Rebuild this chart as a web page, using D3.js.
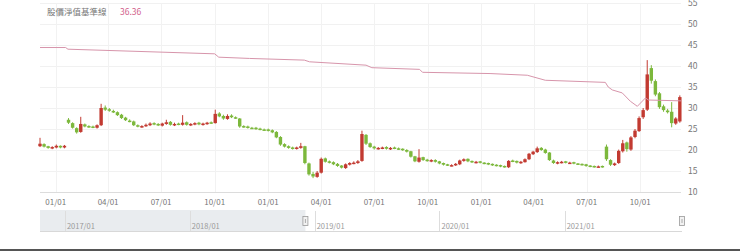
<!DOCTYPE html>
<html lang="zh-Hant">
<head>
    <meta charset="UTF-8">
    <title>股價淨值基準線</title>
    <script src="https://cdn.jsdelivr.net/npm/d3@7/dist/d3.min.js"></script>
    <style>
        body { margin: 0; background: #fff; }
        svg { display: block; font-family: "Noto Sans CJK TC", "Noto Sans", sans-serif; }
    </style>
</head>
<body>
<script>
    var width = 740
    var height = 251

    // 週K資料(每週一根)
    var firstWeek = '2018-12-05'
    var open = [
        20.9, 21.4, 20.9, 20.4, 20.6, 21.0, 20.6, 27.2, 26.4, 25.2,
        24.3, 26.1, 25.7, 25.6, 25.3, 25.9, 30.1, 29.7, 29.3, 29.0,
        28.4, 27.7, 27.0, 26.8, 25.9, 25.5, 25.7, 25.9, 26.4, 26.2,
        25.8, 26.2, 26.7, 25.9, 26.3, 26.0, 26.6, 25.9, 26.1, 26.5,
        26.0, 26.2, 26.6, 26.4, 28.7, 28.1, 27.4, 28.2, 27.8, 27.5,
        25.7, 25.6, 25.3, 25.3, 25.1, 24.9, 24.9, 24.7, 24.3, 23.1,
        21.4, 20.9, 20.6, 20.3, 20.5, 20.9, 16.8, 14.3, 13.6, 14.6,
        18.0, 17.3, 17.1, 16.7, 16.3, 15.7, 16.5, 16.8, 16.9, 17.4,
        23.6, 21.6, 20.8, 20.3, 20.4, 20.7, 20.2, 20.6, 20.4, 20.3,
        20.0, 19.7, 18.5, 17.2, 18.3, 17.7, 17.3, 17.6, 17.3, 16.9,
        16.6, 16.3, 16.4, 16.6, 17.4, 17.9, 17.4, 17.0, 17.3, 17.0,
        16.9, 16.7, 16.5, 16.4, 16.2, 15.9, 17.5, 17.4, 16.9, 17.1,
        17.8, 19.0, 19.5, 20.5, 20.1, 19.4, 17.5, 16.8, 17.0, 17.3,
        16.9, 17.1, 16.8, 16.7, 16.6, 16.3, 16.2, 15.9, 16.2, 20.8,
        17.6, 16.4, 16.9, 19.7, 21.8, 20.1, 23.1, 24.5, 27.8, 29.6,
        39.5, 36.4, 33.5, 30.4, 29.4, 29.1, 26.3, 26.8
    ]
    var high = [
        22.9, 21.6, 21.0, 20.9, 21.3, 21.1, 21.2, 27.6, 26.6, 25.4,
        27.9, 26.3, 25.9, 25.8, 26.1, 31.0, 30.6, 30.0, 29.6, 29.2,
        28.6, 27.9, 27.3, 27.0, 26.1, 25.9, 26.3, 26.6, 26.6, 26.4,
        26.5, 27.2, 26.9, 26.5, 26.5, 28.3, 26.8, 26.4, 26.6, 26.7,
        26.5, 26.7, 26.8, 29.6, 29.0, 28.4, 28.5, 28.5, 28.0, 27.6,
        25.9, 25.8, 25.5, 25.5, 25.3, 25.1, 25.1, 24.9, 24.5, 23.3,
        21.6, 21.1, 20.8, 20.8, 21.7, 21.0, 17.0, 14.8, 15.0, 18.2,
        18.2, 17.5, 17.3, 16.9, 16.4, 16.8, 17.1, 17.3, 17.6, 24.6,
        23.8, 21.8, 21.0, 20.7, 20.8, 20.9, 20.7, 20.8, 20.6, 20.4,
        20.2, 19.8, 18.6, 20.2, 18.4, 17.9, 17.8, 17.8, 17.4, 17.0,
        16.7, 16.6, 16.9, 17.7, 18.0, 18.0, 17.5, 17.4, 17.4, 17.1,
        17.0, 16.8, 16.6, 16.5, 16.3, 17.6, 17.7, 17.5, 17.4, 18.0,
        19.3, 19.8, 20.8, 20.7, 20.3, 19.5, 17.7, 17.3, 17.4, 17.4,
        17.2, 17.2, 16.9, 16.8, 16.7, 16.4, 16.3, 16.3, 16.3, 21.3,
        17.8, 17.0, 20.1, 22.4, 22.0, 23.3, 25.0, 28.0, 30.0, 41.4,
        40.2, 36.8, 33.8, 30.8, 29.8, 31.4, 27.8, 33.0
    ]
    var low = [
        20.7, 20.6, 20.3, 20.2, 20.4, 20.4, 20.4, 26.2, 25.1, 23.9,
        24.1, 25.4, 25.3, 25.2, 25.1, 25.7, 29.3, 29.1, 28.8, 28.1,
        27.4, 26.9, 26.6, 25.7, 25.4, 25.3, 25.5, 25.7, 25.9, 25.7,
        25.6, 26.0, 25.8, 25.7, 25.9, 25.8, 25.8, 25.7, 25.9, 25.9,
        25.8, 26.0, 26.2, 26.3, 27.8, 27.2, 27.2, 27.6, 27.4, 25.3,
        25.3, 25.1, 25.0, 24.8, 24.7, 24.6, 24.4, 24.0, 22.8, 21.0,
        20.6, 20.3, 20.1, 20.1, 20.3, 16.6, 13.9, 13.3, 13.4, 14.4,
        17.0, 16.8, 16.4, 16.0, 15.6, 15.5, 16.3, 16.6, 16.7, 17.2,
        21.2, 20.5, 20.1, 20.1, 20.2, 20.1, 20.0, 20.2, 20.0, 19.8,
        19.4, 18.2, 17.1, 17.0, 17.4, 17.2, 17.1, 17.0, 16.6, 16.3,
        16.2, 16.1, 16.2, 16.4, 17.2, 17.1, 16.9, 16.8, 16.8, 16.6,
        16.4, 16.2, 16.1, 15.9, 15.8, 15.7, 17.1, 16.8, 16.7, 17.0,
        17.6, 18.8, 19.3, 19.8, 19.1, 17.4, 16.7, 16.6, 16.8, 16.8,
        16.8, 16.6, 16.5, 16.3, 16.0, 15.9, 15.8, 15.8, 15.8, 17.4,
        16.2, 16.2, 16.7, 19.4, 19.6, 19.8, 22.8, 24.3, 27.4, 29.3,
        35.8, 32.8, 29.8, 29.1, 28.7, 25.4, 26.0, 26.5
    ]
    var close = [
        21.5, 20.8, 20.5, 20.7, 21.0, 20.6, 21.0, 26.5, 25.3, 24.2,
        26.2, 25.6, 25.5, 25.4, 25.9, 30.0, 29.6, 29.4, 29.0, 28.3,
        27.6, 27.1, 26.8, 25.9, 25.6, 25.7, 26.0, 26.3, 26.1, 25.9,
        26.3, 26.6, 26.0, 26.2, 26.1, 26.5, 26.0, 26.2, 26.4, 26.1,
        26.3, 26.5, 26.4, 28.6, 28.0, 27.5, 28.1, 27.8, 27.6, 25.6,
        25.5, 25.3, 25.2, 25.0, 24.9, 24.8, 24.6, 24.2, 23.0, 21.3,
        20.8, 20.5, 20.4, 20.6, 20.9, 16.9, 14.2, 13.7, 14.6, 17.9,
        17.2, 17.0, 16.6, 16.2, 15.8, 16.6, 16.9, 17.0, 17.3, 23.8,
        21.5, 20.7, 20.4, 20.5, 20.6, 20.3, 20.5, 20.4, 20.2, 20.0,
        19.6, 18.4, 17.3, 18.2, 17.6, 17.4, 17.6, 17.2, 16.8, 16.5,
        16.4, 16.4, 16.7, 17.5, 17.8, 17.3, 17.1, 17.2, 17.0, 16.8,
        16.6, 16.4, 16.3, 16.1, 16.0, 17.4, 17.3, 17.0, 17.2, 17.8,
        19.1, 19.6, 20.4, 20.0, 19.3, 17.6, 16.9, 17.1, 17.2, 17.0,
        17.0, 16.8, 16.7, 16.5, 16.2, 16.1, 16.0, 16.1, 16.0, 17.8,
        16.5, 16.8, 19.8, 21.6, 20.2, 23.0, 24.6, 27.6, 29.5, 38.0,
        36.5, 33.2, 30.2, 29.5, 29.0, 26.4, 27.5, 32.6
    ]

    // 基準線
    var baseDates = ['2018-12-05', '2019-01-18', '2019-01-22', '2019-10-01', '2019-10-08',
        '2019-11-30', '2020-03-03', '2020-03-12', '2020-06-17', '2020-06-27',
        '2020-09-17', '2020-09-22', '2021-01-16', '2021-03-21', '2021-04-21',
        '2021-08-02', '2021-08-07', '2021-08-14', '2021-08-31', '2021-09-14',
        '2021-09-26', '2021-10-10', '2021-10-15', '2021-12-10']
    var baseValues = [44.4, 44.4, 44.0, 42.9, 42.1,
        41.8, 41.4, 41.0, 40.2, 39.6,
        39.2, 38.5, 38.2, 37.8, 36.6,
        36.1, 35.0, 34.3, 33.6, 31.6,
        30.4, 32.4, 31.9, 31.7]

    var title = '股價淨值基準線'
    var lastValue = '36.36'
    var yTicks = [10, 15, 20, 25, 30, 35, 40, 45, 50, 55]

    var parse = d3.timeParse('%Y-%m-%d')
    var weeks = close.map(function (d, i) {
        return d3.timeDay.offset(parse(firstWeek), 7 * i)
    })

    var svg = d3.select('body')
        .append('svg')
        .attr('width', width)
        .attr('height', height)

    var x = d3.scaleTime()
        .domain([parse('2018-12-05'), parse('2021-12-10')])
        .range([40, 681])

    var y = d3.scaleLinear()
        .domain([10, 50])
        .range([192, 24])

    // 格線
    svg.append('g')
        .selectAll('line')
        .data(yTicks)
        .enter()
        .append('line')
        .attr('x1', 40)
        .attr('x2', 681)
        .attr('y1', function (d) { return y(d) + 0.5 })
        .attr('y2', function (d) { return y(d) + 0.5 })
        .attr('stroke', function (d) { return d === 10 ? '#dcdcdc' : '#f1f1f1' })

    var monthTicks = x.ticks(d3.timeMonth.every(3))
    svg.append('g')
        .selectAll('line')
        .data(monthTicks)
        .enter()
        .append('line')
        .attr('x1', function (d) { return Math.round(x(d)) + 0.5 })
        .attr('x2', function (d) { return Math.round(x(d)) + 0.5 })
        .attr('y1', y(55))
        .attr('y2', y(10))
        .attr('stroke', '#f2f2f2')

    // 右側刻度
    svg.append('g')
        .selectAll('text')
        .data(yTicks)
        .enter()
        .append('text')
        .attr('x', 688)
        .attr('y', function (d) { return y(d) })
        .attr('dy', '0.35em')
        .attr('font-size', '8.5px')
        .attr('fill', '#777')
        .text(function (d) { return d })

    // 下方日期
    svg.append('g')
        .selectAll('text')
        .data(monthTicks)
        .enter()
        .append('text')
        .attr('x', function (d) { return x(d) })
        .attr('y', 205)
        .attr('text-anchor', 'middle')
        .attr('font-size', '8px')
        .attr('fill', '#777')
        .text(d3.timeFormat('%m/%d'))

    // K線
    var candles = svg.append('g')
        .selectAll('g')
        .data(weeks)
        .enter()
        .append('g')
        .attr('fill', function (d, i) { return close[i] >= open[i] ? '#c23a31' : '#7cb83c' })
        .attr('stroke', function (d, i) { return close[i] >= open[i] ? '#c23a31' : '#7cb83c' })

    candles.append('line')
        .attr('x1', function (d) { return x(d) })
        .attr('x2', function (d) { return x(d) })
        .attr('y1', function (d, i) { return y(high[i]) })
        .attr('y2', function (d, i) { return y(low[i]) })
        .attr('stroke-width', 1)

    candles.append('rect')
        .attr('x', function (d) { return x(d) - 1.7 })
        .attr('width', 3.4)
        .attr('y', function (d, i) { return y(Math.max(open[i], close[i])) })
        .attr('height', function (d, i) { return Math.max(1.5, Math.abs(y(open[i]) - y(close[i]))) })
        .attr('stroke', 'none')

    var line = d3.line()
        .x(function (d, i) { return x(parse(baseDates[i])) })
        .y(function (d) { return y(d) })

    svg.append('path')
        .attr('d', line(baseValues))
        .attr('fill', 'none')
        .attr('stroke', '#d795ab')
        .attr('stroke-width', 1)

    // 標題
    svg.append('text')
        .attr('x', 47)
        .attr('y', 15)
        .attr('font-size', '8.5px')
        .attr('fill', '#777')
        .text(title)

    svg.append('text')
        .attr('x', 120)
        .attr('y', 15)
        .attr('font-size', '8.5px')
        .attr('fill', '#d2618c')
        .text(lastValue)

    // 導覽列
    var xn = d3.scaleTime()
        .domain([parse('2016-10-20'), parse('2021-12-10')])
        .range([40, 682])

    var nav = svg.append('g')
    var winStart = xn(parse('2018-12-05'))
    var winEnd = xn(parse('2021-12-10'))

    nav.append('rect')
        .attr('x', 40)
        .attr('y', 210)
        .attr('width', winStart - 40)
        .attr('height', 21)
        .attr('fill', '#e9ecef')

    nav.append('line')
        .attr('x1', 40)
        .attr('x2', 682)
        .attr('y1', 231.5)
        .attr('y2', 231.5)
        .attr('stroke', '#d8d8d8')

    var yearTicks = xn.ticks(d3.timeYear.every(1))
    nav.selectAll('.yl')
        .data(yearTicks)
        .enter()
        .append('line')
        .attr('x1', function (d) { return Math.round(xn(d)) + 0.5 })
        .attr('x2', function (d) { return Math.round(xn(d)) + 0.5 })
        .attr('y1', 211)
        .attr('y2', 231)
        .attr('stroke', '#dddddd')

    nav.selectAll('.yt')
        .data(yearTicks)
        .enter()
        .append('text')
        .attr('x', function (d) { return xn(d) + 2 })
        .attr('y', 229)
        .attr('font-size', '7.5px')
        .attr('fill', '#999')
        .text(d3.timeFormat('%Y/%m'))

    nav.selectAll('.hd')
        .data([winStart, winEnd])
        .enter()
        .append('rect')
        .attr('x', function (d) { return d - 2.5 })
        .attr('y', 216.5)
        .attr('width', 5)
        .attr('height', 9)
        .attr('fill', '#f2f2f2')
        .attr('stroke', '#999')
        .attr('stroke-width', 0.8)

    nav.selectAll('.hl')
        .data([winStart, winEnd])
        .enter()
        .append('line')
        .attr('x1', function (d) { return d })
        .attr('x2', function (d) { return d })
        .attr('y1', 219)
        .attr('y2', 223)
        .attr('stroke', '#999')
        .attr('stroke-width', 0.8)

    svg.append('rect')
        .attr('x', 0)
        .attr('y', 249)
        .attr('width', width)
        .attr('height', 2)
        .attr('fill', '#555')
</script>
</body>
</html>
